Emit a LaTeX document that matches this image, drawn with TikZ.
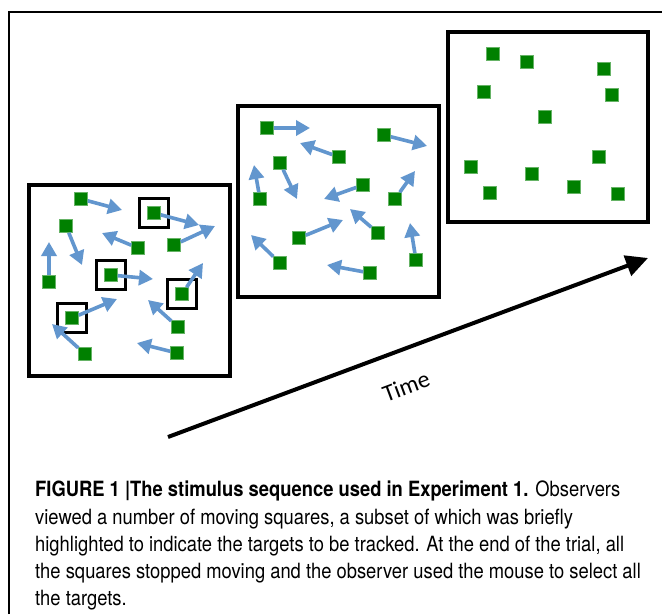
\documentclass[tikz,border=0pt]{standalone}
\usepackage{fontspec}
\usepackage{tikz}
\usetikzlibrary{arrows.meta}
\newfontfamily\timefont{Carlito}
\newfontfamily\capfont{TeX Gyre Heros}[FakeStretch=0.875]
\definecolor{squaregreen}{RGB}{0,128,0}
\definecolor{motionblue}{RGB}{98,150,206}
\tikzset{
    panel/.style     = {draw=black, line width=4pt, fill=white},
    dot/.style       = {shape=rectangle, fill=squaregreen,
        draw=squaregreen!60!white, line width=0.5pt,
        minimum size=13pt, inner sep=0pt},
    targetbox/.style = {shape=rectangle, draw=black, line width=3pt,
        minimum size=29pt, inner sep=0pt},
    motion/.style    = {draw=motionblue, line width=3.6pt,
        -{Triangle[length=14pt,width=15pt]}},
    timeline/.style  = {draw=black, line width=4pt,
        -{Triangle[length=22pt,width=21pt]}}
}

\begin{document}
\begin{tikzpicture}
            [
            x                 = 1pt,
            y                 = -1pt,
            every node/.style = {font=\footnotesize}
            ]
            \useasboundingbox (0,0) rectangle (662,614);
            % outer frame
            \draw[line width=1.5pt] (9,614) -- (9,12) -- (662,12);
            % the three displays
            \draw[panel] (29,185) rectangle (230,376);
            \draw[panel] (238,106) rectangle (439,297);
            \draw[panel] (448,32) rectangle (648,222);
            % display 1: targets highlighted
            \foreach \n/\x/\y in {1/81/199, 2/154/213, 3/66/226, 4/138/248,
                5/174/245, 6/49/282, 7/111/275, 8/182/294, 9/72/318,
                10/178/327, 11/85/354, 12/177/353}
                \node[dot] (pa\n) at (\x,\y) {};
            \foreach \n in {2,7,8,9}
                \node[targetbox] (ba\n) at (pa\n) {};
            \foreach \n/\x/\y in {1/122/210, 2/199/225, 3/82/265, 4/102/233,
                5/215/226, 6/49/242, 7/153/279, 8/203/263, 9/117/299,
                10/148/300, 11/52/324, 12/137/343}
                {
                \coordinate (ta\n) at (\x,\y);
                \draw[motion] (pa\n) -- (ta\n);
                }
            % display 2: squares moving
            \foreach \n/\x/\y in {1/267/128, 2/384/135, 3/339/157, 4/280/163,
                5/260/199, 6/363/185, 7/395/199, 8/299/238, 9/378/233,
                10/280/263, 11/370/273, 12/416/260}
                \node[dot] (pb\n) at (\x,\y) {};
            \foreach \n/\x/\y in {1/310/128, 2/427/146, 3/300/143, 4/297/199,
                5/254/165, 6/324/199, 7/415/171, 8/343/220, 9/350/209,
                10/251/235, 11/327/265, 12/410/223}
                {
                \coordinate (tb\n) at (\x,\y);
                \draw[motion] (pb\n) -- (tb\n);
                }
            % display 3: squares stopped
            \foreach \n/\x/\y in {1/493/54, 2/527/62, 3/604/69, 4/484/92,
                5/612/95, 6/545/117, 7/599/157, 8/471/167, 9/532/174,
                10/490/193, 11/574/187, 12/618/194}
                \node[dot] (pc\n) at (\x,\y) {};
            % time axis
            \coordinate (t0) at (168,437);
            \coordinate (t1) at (648,258);
            \draw[timeline] (t0) -- node[pos=0.47, sloped, below=22pt,
                font=\timefont\fontsize{24}{24}\selectfont] (timelabel) {Time} (t1);
            % caption
            \node[anchor=north west, align=left, inner sep=0pt,
                font=\capfont\fontsize{21}{27.2}\selectfont] (caption) at (35,481)
                {\textbf{FIGURE 1 |The stimulus sequence used in Experiment 1.} Observers\\
                viewed a number of moving squares, a subset of which was briefly\\
                highlighted to indicate the targets to be tracked. At the end of the trial, all\\
                the squares stopped moving and the observer used the mouse to select all\\
                the targets.};
    \end{tikzpicture}
\end{document}
